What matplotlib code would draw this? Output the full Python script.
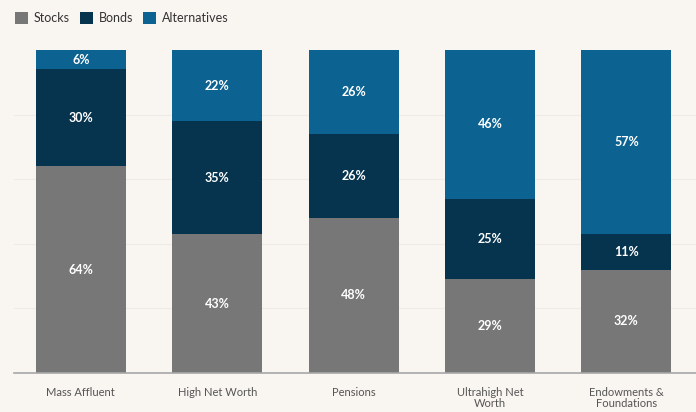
import matplotlib.pyplot as plt
import numpy as np

plt.rcParams['font.family'] = ['Lato', 'DejaVu Sans']

categories = ["Mass Affluent", "High Net Worth", "Pensions", "Ultrahigh Net\nWorth", "Endowments &\nFoundations"]
stocks = [64, 43, 48, 29, 32]
bonds = [30, 35, 26, 25, 11]
alternatives = [6, 22, 26, 46, 57]

series = [("Stocks", stocks, "#777777"),
          ("Bonds", bonds, "#06344f"),
          ("Alternatives", alternatives, "#0c6291")]

bg = "#f9f5f1"
fig = plt.figure(figsize=(6.96, 4.12), dpi=100, facecolor=bg)
ax = fig.add_axes([14 / 696, 1 - 373 / 412, 682 / 696, 323 / 412], facecolor=bg)

x = np.arange(len(categories))
bottom = np.zeros(len(categories))
handles = []
for name, vals, color in series:
    bars = ax.bar(x, vals, width=0.66, bottom=bottom, color=color, label=name, zorder=2)
    handles.append(bars)
    for xi, b, v in zip(x, bottom, vals):
        ax.text(xi, b + v / 2, f"{v}%", ha="center", va="center", color="white",
                fontsize=9, fontweight="bold", zorder=3)
    bottom += np.array(vals)

# faint gridlines
for g in [20, 40, 60, 80]:
    ax.axhline(g, color="#efeae5", lw=0.8, zorder=1)

ax.set_xlim(-0.49, 4.51)
ax.set_ylim(0, 100)
ax.set_yticks([])
ax.set_xticks(x)
ax.set_xticklabels(categories, fontsize=8, color="#555555", linespacing=1.05)
ax.tick_params(axis="x", length=0, pad=10)
for s in ["top", "right", "left"]:
    ax.spines[s].set_visible(False)
ax.spines["bottom"].set_color("#a8a8a8")
ax.spines["bottom"].set_linewidth(1.2)

fig.legend(handles=handles, loc="upper left", bbox_to_anchor=(4 / 696, 1 - 1 / 412),
           ncol=3, frameon=False, fontsize=9, handlelength=1.0, handleheight=1.0,
           handletextpad=0.5, columnspacing=0.8, labelcolor="#333333")

fig.savefig("out.png", dpi=100, facecolor=bg)
